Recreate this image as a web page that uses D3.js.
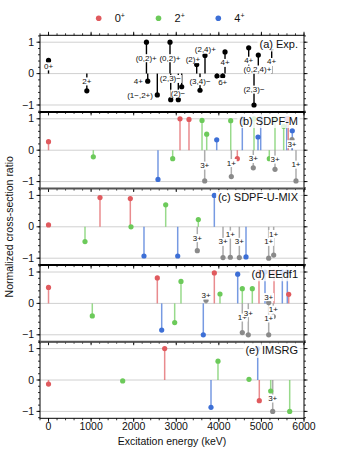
<!DOCTYPE html>
<html>
<head>
<meta charset="utf-8">
<script src="https://cdn.jsdelivr.net/npm/d3@7"></script>
<style>
  body { margin: 0; background: #fff; }
  svg { display: block; font-family: "Liberation Sans", Arial, sans-serif; }
</style>
</head>
<body>
<script>
// ---- data (energy in keV, normalized ratio) ----
// experiment: [energy, ratio, label]
var expPoints = [
  [0, 0.42, "0+"], [900, -0.55, "2+"], [2300, 1.0, "(0,2)+"], [2330, -0.24, "4+"],
  [2555, -0.68, "(1\u2212,2+)"], [2853, 1.0, "(0,2)+"], [2870, -0.83, "(2,3)\u2212"],
  [3048, -0.83, "(2)\u2212"], [3128, -0.42, ""], [3480, 0.29, "(2)+"],
  [3558, -0.53, "(3,4)\u2212"], [3675, 0.58, "(2,4)+"], [3957, -0.08, ""],
  [4091, -0.08, "6+"], [4145, 0.69, "4+"], [4701, 0.82, "4+"],
  [4826, -1.0, "(2,3)\u2212"], [4927, 0.59, "(0,2,4)+"], [5241, 0.76, "4+"]
];
// where each experimental label sits: [energy, ratio]
var expLabelAt = [
  [0, 0.24], [900, -0.24], [2295, 0.5], [2110, -0.24],
  [2150, -0.68], [2853, 0.5], [2862, -0.16],
  [3041, -0.63], null, [3390, 0.47],
  [3558, -0.23], [3683, 0.77], null,
  [4091, -0.26], [4145, 0.35], [4701, 0.42],
  [4826, -0.5], [4908, 0.14], [5241, 0.38]
];
var expNoMarker = [5241];

// models: [energy, ratio, spin (0/2/4) or other-spin label, label ratio]
var sdpfM = [
  [0, 0.27, 0], [1052, -0.21, 2], [2571, -0.93, 4], [2916, -0.27, 2], [3088, 1.0, 0],
  [3299, 0.98, 0], [3605, 0.95, 2], [3668, -0.98, "3+", -0.48], [3715, 0.51, 2],
  [3950, 0.33, 4], [4279, 0.94, 2], [4293, -0.84, "1+", -0.4], [4434, -0.27, 0],
  [4551, 1.0, 4], [4809, -0.56, "3+", -0.27], [4826, 1.0, 2], [4920, 0.42, 4],
  [4983, 1.0, 4], [5185, -0.27, 2], [5319, 1.0, 2], [5319, -0.61, "3+", -0.29],
  [5523, 0.76, 2], [5594, 1.0, 4], [5631, 1.0, 0], [5718, 0.34, "3+", 0.2],
  [5725, 0.62, 4], [5812, -0.98, "1+", -0.45]
];
var sdpfUMix = [
  [0, 0.06, 0], [857, -0.47, 2], [1209, 0.93, 0], [1921, 0.9, 0], [1937, 0.0, 2],
  [2242, -0.93, 4], [2752, 0.7, 2], [3034, -0.93, 4], [3494, -0.76, "3+", -0.35],
  [3518, 0.23, 2], [3894, 1.0, 4], [4098, -0.98, "3+", -0.47], [4270, -0.97, "1+", -0.24],
  [4481, -0.98, "3+", -0.47], [4638, -0.96, 4], [5171, -1.0, "1+", -0.47],
  [5288, -0.9, "1+", -0.22]
];
var eedf1 = [
  [0, 0.51, 0], [1028, -0.4, 2], [2555, 0.81, 0], [2658, -0.85, 4], [2963, -0.61, 2],
  [3111, 0.7, 2], [3635, -1.0, 4], [3699, 0.1, "3+", 0.26], [3894, 0.97, 0],
  [4027, 0.3, 2], [4443, 0.93, 4], [4551, 0.47, 2], [4551, -0.93, "1+", -0.44],
  [4692, -1.0, "3+", -0.3], [4786, 0.47, 2], [4943, 1.0, 0], [5084, 1.0, 4],
  [5171, 0.03, "3+", 0.21], [5171, -1.0, "1+", -0.47], [5279, -0.42, "1+", -0.19],
  [5296, 1.0, 0], [5491, 1.0, 4], [5608, 1.0, 4], [5641, 0.29, 0]
];
var imsrg = [
  [0, -0.13, 0], [1742, -0.03, 2], [2728, 1.0, 0], [3816, -0.87, 4], [3980, 0.6, 2],
  [4708, 0.02, 2], [4913, 1.0, 4], [4950, -0.66, 0], [5218, -0.35, 2],
  [5265, -1.0, "3+", -0.58], [5664, -1.0, 2]
];

var panelNames = ["(a) Exp.", "(b) SDPF-M", "(c) SDPF-U-MIX", "(d) EEdf1", "(e) IMSRG"];
var models = [sdpfM, sdpfUMix, eedf1, imsrg];
var spins = [0, 2, 4];
var xTicks = [0, 1000, 2000, 3000, 4000, 5000, 6000];
var yTicks = [-1, 0, 1];

// ---- layout ----
var W = 338, H = 450;
var plotLeft = 40, plotRight = 304, plotTop = 35.3, panelH = 76.6;
var spinColor = { 0: "#e05a5e", 2: "#6cca5a", 4: "#3d6fd6" };
var grayColor = "#8a8a8a";

var svg = d3.select("body").append("svg").attr("width", W).attr("height", H);

var x = d3.scaleLinear().domain([-200, 6000]).range([plotLeft, plotRight]);

function yFor(i) {
  var y0 = plotTop + i * panelH;
  return d3.scaleLinear().domain([-1.22, 1.22]).range([y0 + panelH, y0]);
}

// text with a white box behind it
function boxedText(g, tx, ty, str, size, opacity) {
  var t = g.append("text")
    .attr("x", tx).attr("y", ty)
    .attr("text-anchor", "middle")
    .attr("dy", "0.35em")
    .attr("font-size", size)
    .attr("fill", "#111")
    .text(str);
  var b = t.node().getBBox();
  g.insert("rect", function () { return t.node(); })
    .attr("x", b.x - 0.5).attr("y", b.y + 0.5)
    .attr("width", b.width + 1).attr("height", b.height - 1)
    .attr("fill", "#fff").attr("fill-opacity", opacity);
  return t;
}

// legend
var legend = svg.append("g").selectAll("g").data(spins).enter().append("g")
  .attr("transform", function (d, i) { return "translate(" + (98.7 + i * 59.8) + ",18.3)"; });
legend.append("circle").attr("r", 2.8).attr("fill", function (d) { return spinColor[d]; });
var lt = legend.append("text").attr("x", 16).attr("y", 4).attr("font-size", 11).attr("fill", "#111");
lt.append("tspan").text(function (d) { return d; });
lt.append("tspan").attr("dy", -4).attr("font-size", 7).text("+");

for (var p = 0; p < 5; p++) {
  var y = yFor(p);
  var g = svg.append("g");
  var py0 = plotTop + p * panelH;

  // grid
  g.selectAll(".grid").data(yTicks).enter().append("line")
    .attr("x1", plotLeft).attr("x2", plotRight)
    .attr("y1", function (d) { return y(d); }).attr("y2", function (d) { return y(d); })
    .attr("stroke", "#d0d0d0").attr("stroke-width", 1);

  if (p === 0) {
    var stems = g.append("g"), marks = g.append("g"), labs = g.append("g");
    expPoints.forEach(function (d, i) {
      var nomark = expNoMarker.indexOf(d[0]) >= 0;
      stems.append("line")
        .attr("x1", x(d[0])).attr("x2", x(d[0]))
        .attr("y1", y(0)).attr("y2", y(d[1]))
        .attr("stroke", "#000").attr("stroke-width", 1.4);
      if (nomark) {
        stems.append("line")
          .attr("x1", x(d[0]) - 2).attr("x2", x(d[0]) + 2)
          .attr("y1", y(d[1])).attr("y2", y(d[1]))
          .attr("stroke", "#000").attr("stroke-width", 1.2);
      } else {
        marks.append("circle").attr("cx", x(d[0])).attr("cy", y(d[1]))
          .attr("r", 2.6).attr("fill", "#000");
      }
      if (d[2] && expLabelAt[i]) {
        boxedText(labs, x(expLabelAt[i][0]), y(expLabelAt[i][1]), d[2], 8, 1);
      }
    });
  } else {
    var data = models[p - 1];
    var stems2 = g.append("g"), marks2 = g.append("g"), labs2 = g.append("g");
    data.forEach(function (d) {
      var other = typeof d[2] === "string";
      var c = other ? grayColor : spinColor[d[2]];
      stems2.append("line")
        .attr("x1", x(d[0])).attr("x2", x(d[0]))
        .attr("y1", y(0)).attr("y2", y(d[1]))
        .attr("stroke", c).attr("stroke-width", 1.5).attr("stroke-opacity", 0.7);
      marks2.append("circle").attr("cx", x(d[0])).attr("cy", y(d[1]))
        .attr("r", 2.6).attr("fill", c);
      if (other) {
        boxedText(labs2, x(d[0]), y(d[3]), d[2], 8, 1);
      }
    });
  }

  // panel name, top right
  var nt = g.append("text")
    .attr("x", plotRight - 6).attr("y", py0 + 8.8)
    .attr("dy", "0.35em")
    .attr("text-anchor", "end")
    .attr("font-size", 11).attr("fill", "#111")
    .text(panelNames[p]);
  var nb = nt.node().getBBox();
  g.insert("rect", function () { return nt.node(); })
    .attr("x", nb.x - 2).attr("y", py0 + 1.5)
    .attr("width", nb.width + 4).attr("height", nb.y + nb.height - py0)
    .attr("fill", "#fff").attr("fill-opacity", 0.8);

  // y ticks, left and right, outward
  var yMinor = d3.range(-1.2, 1.21, 0.2);
  [plotLeft, plotRight].forEach(function (sx) {
    var dir = sx === plotLeft ? -1 : 1;
    g.selectAll(null).data(yMinor).enter().append("line")
      .attr("x1", sx).attr("x2", sx + dir * 2)
      .attr("y1", function (d) { return y(d); }).attr("y2", function (d) { return y(d); })
      .attr("stroke", "#000").attr("stroke-width", 0.8);
    g.selectAll(null).data(yTicks).enter().append("line")
      .attr("x1", sx).attr("x2", sx + dir * 3.5)
      .attr("y1", function (d) { return y(d); }).attr("y2", function (d) { return y(d); })
      .attr("stroke", "#000").attr("stroke-width", 0.9);
  });
  g.selectAll(null).data(yTicks).enter().append("text")
    .attr("x", 34).attr("y", function (d) { return y(d); })
    .attr("dy", "0.35em").attr("text-anchor", "end")
    .attr("font-size", 10.5).attr("fill", "#111")
    .text(function (d) { return d < 0 ? "\u2212" + Math.abs(d) : d; });

  // x ticks at the bottom (and top of first panel), outward
  var xMinor = d3.range(-200, 6001, 200);
  var edges = p === 0 ? [[py0, -1], [py0 + panelH, 1]] : [[py0 + panelH, 1]];
  edges.forEach(function (e) {
    g.selectAll(null).data(xMinor).enter().append("line")
      .attr("x1", function (d) { return x(d); }).attr("x2", function (d) { return x(d); })
      .attr("y1", e[0]).attr("y2", e[0] + e[1] * 2)
      .attr("stroke", "#000").attr("stroke-width", 0.8);
    g.selectAll(null).data(xTicks).enter().append("line")
      .attr("x1", function (d) { return x(d); }).attr("x2", function (d) { return x(d); })
      .attr("y1", e[0]).attr("y2", e[0] + e[1] * 3.5)
      .attr("stroke", "#000").attr("stroke-width", 0.9);
  });

  // frame
  g.append("rect").attr("x", plotLeft).attr("y", py0).attr("width", plotRight - plotLeft).attr("height", panelH)
    .attr("fill", "none").attr("stroke", "#000").attr("stroke-width", 1);
  if (p > 0) {
    g.append("line").attr("x1", plotLeft).attr("x2", plotRight).attr("y1", py0).attr("y2", py0)
      .attr("stroke", p % 2 === 1 ? "#000" : "#555").attr("stroke-width", 2);
  }
}

var plotBottom = plotTop + 5 * panelH;
svg.append("g").selectAll("text").data(xTicks).enter().append("text")
  .attr("x", function (d) { return x(d); }).attr("y", plotBottom + 12)
  .attr("text-anchor", "middle").attr("font-size", 10.5).attr("fill", "#111")
  .text(function (d) { return d; });

svg.append("text").attr("x", (plotLeft + plotRight) / 2).attr("y", plotBottom + 27)
  .attr("text-anchor", "middle").attr("font-size", 10.5).attr("fill", "#111")
  .text("Excitation energy (keV)");

svg.append("text")
  .attr("transform", "translate(12.7," + (plotTop + plotBottom) / 2 + ") rotate(-90)")
  .attr("text-anchor", "middle").attr("font-size", 10.5).attr("fill", "#111")
  .text("Normalized cross-section ratio");
</script>
</body>
</html>
